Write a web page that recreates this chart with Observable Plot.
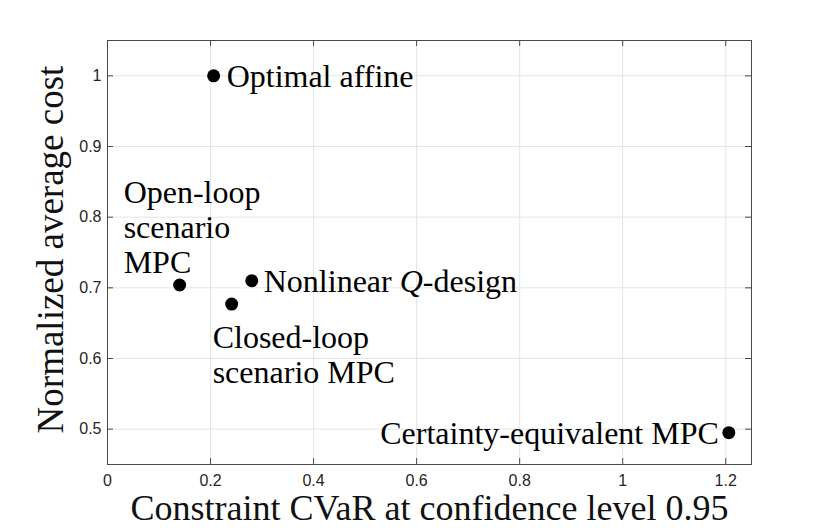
<!DOCTYPE html>
<html>
<head>
<meta charset="utf-8">
<script src="https://cdn.jsdelivr.net/npm/d3@7"></script>
<script src="https://cdn.jsdelivr.net/npm/@observablehq/plot@0.6"></script>
<style>
  html, body { margin: 0; padding: 0; background: white; }
</style>
</head>
<body>
<div id="chart"></div>
<script>
// ---- data ----
const names = ["Optimal affine", "Open-loop\nscenario\nMPC", "Closed-loop\nscenario MPC", "Nonlinear Q-design", "Certainty-equivalent MPC"];
const cvar = [0.206, 0.140, 0.241, 0.280, 1.206];
const cost = [1.000, 0.704, 0.677, 0.710, 0.495];
const xTicks = [0, 0.2, 0.4, 0.6, 0.8, 1, 1.2];
const yTicks = [0.5, 0.6, 0.7, 0.8, 0.9, 1];
const xLabel = "Constraint CVaR at confidence level 0.95";
const yLabel = "Normalized average cost";

const points = names.map((name, i) => ({name, x: cvar[i], y: cost[i]}));

const W = 830, H = 531;
const mL = 107, mR = 79, mT = 40, mB = 67;
const plotW = W - mL - mR, plotH = H - mT - mB;
const tick = 6;
const serif = "Liberation Serif, Times New Roman, serif";
const sans = "Liberation Sans, Arial, sans-serif";
const fmt = d => String(+d.toFixed(2));
const axisColor = "#4a4a4a";

const labelStyle = {x: "x", y: "y", text: "name", fontFamily: serif, fontSize: 32, fill: "black", lineHeight: 1.1};

const chart = Plot.plot({
  width: W,
  height: H,
  marginLeft: mL,
  marginRight: mR,
  marginTop: mT,
  marginBottom: mB,
  style: {fontFamily: sans, fontSize: "16px", color: "#262626", background: "white"},
  x: {domain: [0, 1.25]},
  y: {domain: [0.45, 1.05]},
  marks: [
    Plot.gridX(xTicks, {stroke: "#e5e5e5", strokeOpacity: 1}),
    Plot.gridY(yTicks, {stroke: "#e5e5e5", strokeOpacity: 1}),
    Plot.frame({stroke: axisColor, strokeWidth: 1}),
    // inward tick marks on all four sides
    Plot.tickX(xTicks, {x: d => d, stroke: axisColor, insetTop: plotH - tick}),
    Plot.tickX(xTicks, {x: d => d, stroke: axisColor, insetBottom: plotH - tick}),
    Plot.tickY(yTicks, {y: d => d, stroke: axisColor, insetRight: plotW - tick}),
    Plot.tickY(yTicks, {y: d => d, stroke: axisColor, insetLeft: plotW - tick}),
    Plot.axisX(xTicks, {anchor: "bottom", tickSize: 0, tickPadding: 10, tickFormat: fmt, label: null, fontSize: 16, fontFamily: sans, fill: "#262626"}),
    Plot.axisY(yTicks, {anchor: "left", tickSize: 0, tickPadding: 6, tickFormat: fmt, label: null, fontSize: 16, fontFamily: sans, fill: "#262626"}),
    // axis titles
    Plot.text([xLabel], {text: d => d, frameAnchor: "bottom", textAnchor: "middle", lineAnchor: "bottom", dy: 55, fontFamily: serif, fontSize: 36, fill: "#111"}),
    Plot.text([yLabel], {text: d => d, frameAnchor: "left", textAnchor: "middle", rotate: -90, lineAnchor: "bottom", dx: -45, dy: -3, fontFamily: serif, fontSize: 37, fill: "#111"}),
    // points
    Plot.dot(points, {x: "x", y: "y", r: 6.5, fill: "black", stroke: "none"}),
    // point labels
    Plot.text(points, {...labelStyle, filter: (d, i) => i === 0, textAnchor: "start", lineAnchor: "middle", dx: 13}),
    Plot.text(points, {...labelStyle, filter: (d, i) => i === 1, textAnchor: "start", lineAnchor: "bottom", dx: -56, dy: -12}),
    Plot.text(points, {...labelStyle, filter: (d, i) => i === 2, textAnchor: "start", lineAnchor: "top", dx: -19, dy: 19}),
    Plot.text(points, {...labelStyle, filter: (d, i) => i === 3, textAnchor: "start", lineAnchor: "middle", dx: 12}),
    Plot.text(points, {...labelStyle, filter: (d, i) => i === 4, textAnchor: "end", lineAnchor: "middle", dx: -10})
  ]
});

// italicise the Q in "Nonlinear Q-design"
const NS = "http://www.w3.org/2000/svg";
chart.querySelectorAll("text").forEach(t => {
  if (t.textContent === "Nonlinear Q-design" && t.children.length === 0) {
    t.textContent = "";
    const a = document.createElementNS(NS, "tspan"); a.textContent = "Nonlinear ";
    const q = document.createElementNS(NS, "tspan"); q.textContent = "Q"; q.setAttribute("font-style", "italic");
    const b = document.createElementNS(NS, "tspan"); b.textContent = "-design";
    t.append(a, q, b);
  }
});

document.getElementById("chart").appendChild(chart);
</script>
</body>
</html>
